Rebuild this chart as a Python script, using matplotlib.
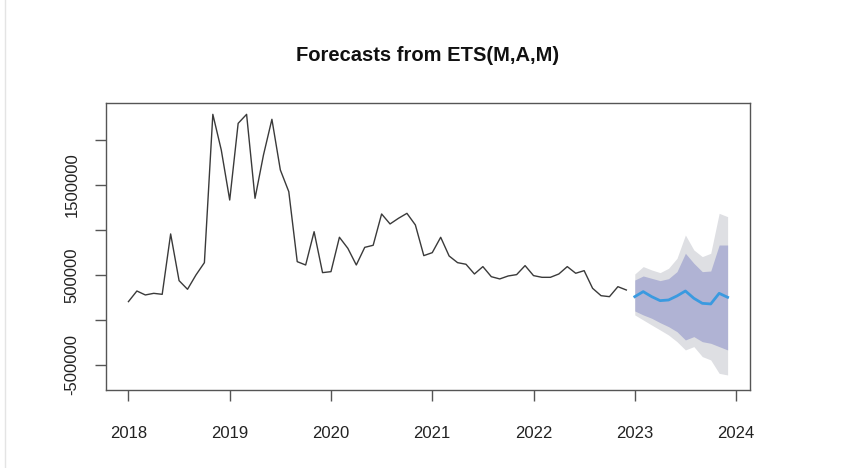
import matplotlib
matplotlib.use("Agg")
import matplotlib.pyplot as plt
import numpy as np

plt.rcParams['font.family'] = ['Liberation Sans', 'DejaVu Sans']

# monthly history, Jan 2018 - Dec 2022
history = [
    204e3, 322e3, 278e3, 296e3, 285e3, 956e3, 437e3, 341e3, 500e3, 637e3, 2285e3, 1889e3,
    1333e3, 2185e3, 2285e3, 1352e3, 1833e3, 2230e3, 1667e3, 1426e3, 648e3, 611e3, 981e3, 526e3,
    537e3, 919e3, 796e3, 611e3, 807e3, 830e3, 1178e3, 1067e3, 1130e3, 1185e3, 1056e3, 715e3,
    748e3, 919e3, 711e3, 637e3, 619e3, 511e3, 593e3, 481e3, 456e3, 489e3, 504e3, 604e3,
    493e3, 474e3, 474e3, 511e3, 593e3, 519e3, 548e3, 352e3, 270e3, 259e3, 370e3, 333e3,
]

# forecast, Jan 2023 - Dec 2023
fc_mean = [259e3, 315e3, 259e3, 215e3, 222e3, 267e3, 322e3, 241e3, 185e3, 178e3, 296e3, 252e3]
fc_hi80 = [444e3, 489e3, 463e3, 437e3, 459e3, 537e3, 741e3, 630e3, 537e3, 544e3, 833e3, 833e3]
fc_lo80 = [100e3, 56e3, 19e3, -30e3, -74e3, -130e3, -222e3, -185e3, -241e3, -259e3, -296e3, -333e3]
fc_hi95 = [511e3, 593e3, 556e3, 526e3, 574e3, 685e3, 944e3, 778e3, 704e3, 741e3, 1185e3, 1148e3]
fc_lo95 = [56e3, 0, -56e3, -111e3, -167e3, -241e3, -333e3, -296e3, -407e3, -444e3, -593e3, -611e3]

yticks = [-500000, 0, 500000, 1000000, 1500000, 2000000]
ytick_labels = ["-500000", "", "500000", "", "1500000", ""]
xticks = [2018, 2019, 2020, 2021, 2022, 2023, 2024]

t_hist = 2018 + np.arange(len(history)) / 12
t_fc = 2023 + np.arange(len(fc_mean)) / 12

fig = plt.figure(figsize=(8.45, 4.68), dpi=100)
ax = fig.add_axes([0.1254, 0.1667, 0.8876 - 0.1254, 0.7799 - 0.1667])

ax.fill_between(t_fc, fc_lo95, fc_hi95, color="#dedfe3", lw=0)
ax.fill_between(t_fc, fc_lo80, fc_hi80, color="#b0b3d4", lw=0)
ax.plot(t_hist, history, color="#3a3a3a", lw=1.0)
ax.plot(t_fc, fc_mean, color="#3a9ae0", lw=2.0)

ax.set_xlim(2017.778, 2024.138)
ax.set_ylim(-778e3, 2411e3)
ax.set_xticks(xticks)
ax.set_xticklabels([str(x) for x in xticks])
ax.set_yticks(yticks)
ax.set_yticklabels(ytick_labels, rotation=90, va="center")
ax.tick_params(axis="both", length=8, width=1, color="#555555", labelsize=12,
               labelcolor="#222222")
ax.tick_params(axis="y", pad=11)
ax.tick_params(axis="x", pad=18)
for s in ax.spines.values():
    s.set_color("#555555")
    s.set_linewidth(1)

ax.set_title("Forecasts from ETS(M,A,M)", fontsize=14.5, fontweight="bold",
             color="#111111", pad=30)

fig.add_artist(plt.Line2D([5 / 845, 5 / 845], [0, 1], color="#e4e4e4", lw=1))

fig.savefig("out.png", dpi=100)
